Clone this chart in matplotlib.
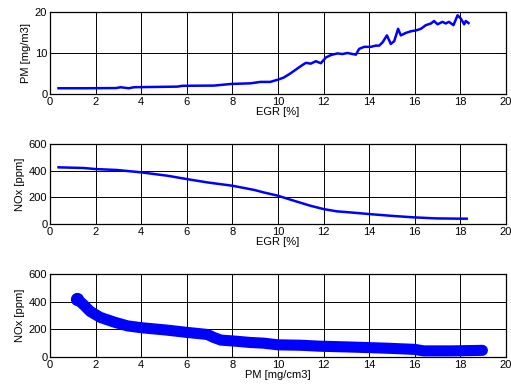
import matplotlib
matplotlib.use("Agg")
import matplotlib.pyplot as plt

plt.rcParams["font.family"] = ["Liberation Sans", "DejaVu Sans"]
plt.rcParams["font.size"] = 8

# PM emission versus EGR rate
egr_pm = [0.37, 1.5, 2.9, 3.09, 3.45, 3.68, 5.59, 5.81, 7.2, 7.94, 8.79, 9.23, 9.66,
          10.0, 10.25, 10.54, 11.0, 11.22, 11.44, 11.66, 11.88, 12.1, 12.32, 12.61,
          12.83, 13.05, 13.27, 13.42, 13.56, 13.78, 14.07, 14.29, 14.44, 14.59, 14.78,
          14.95, 15.1, 15.27, 15.39, 15.61, 15.83, 16.05, 16.27, 16.49, 16.71, 16.85,
          17.0, 17.22, 17.36, 17.5, 17.7, 17.88, 18.02, 18.17, 18.24, 18.36]
pm = [1.4, 1.4, 1.45, 1.65, 1.4, 1.65, 1.8, 2.0, 2.05, 2.45, 2.6, 2.95, 2.95,
      3.5, 4.0, 5.0, 6.8, 7.6, 7.4, 8.0, 7.5, 8.9, 9.5, 9.9,
      9.75, 10.0, 9.75, 9.6, 11.0, 11.5, 11.5, 11.8, 11.8, 12.6, 14.3,
      12.2, 12.9, 15.9, 14.3, 14.9, 15.3, 15.5, 15.9, 16.8, 17.2, 17.8,
      17.0, 17.6, 17.2, 17.6, 16.8, 19.2, 18.4, 17.0, 17.8, 17.3]

# NOx emission versus EGR rate
egr_nox = [0.37, 1.47, 2.0, 2.94, 3.97, 5.15, 6.0, 6.9, 8.0, 8.97, 9.37, 10.0, 10.69,
           11.42, 12.0, 12.58, 13.17, 13.97, 14.92, 15.94, 16.96, 17.98, 18.28]
nox = [425, 420, 412, 405, 388, 362, 337, 312, 287, 255, 237, 212, 175,
       137, 112, 95, 87, 75, 62, 50, 42, 40, 40]

# NOx-PM trade-off
pm_trade = [1.18, 1.47, 1.76, 2.2, 2.8, 3.4, 4.0, 5.1, 6.0, 6.9, 7.2, 7.5, 8.1,
            8.79, 9.37, 10.0, 10.98, 11.85, 13.2, 14.7, 16.0, 16.4, 17.6, 18.97]
nox_trade = [420, 378, 330, 287, 253, 225, 212, 195, 178, 163, 140, 122, 115,
             105, 100, 88, 85, 78, 72, 64, 55, 44, 44, 48]

x_ticks = [0, 2, 4, 6, 8, 10, 12, 14, 16, 18, 20]

fig = plt.figure(figsize=(5.11, 3.91), dpi=100)
boxes = [(0.098, 0.7596, 0.892, 0.2097),
         (0.098, 0.4271, 0.892, 0.2046),
         (0.098, 0.0870, 0.892, 0.2120)]
axes = [fig.add_axes(b) for b in boxes]

blue = (0, 0, 1)
axes[0].plot(egr_pm, pm, color=blue, lw=1.8)
axes[1].plot(egr_nox, nox, color=blue, lw=1.8)
axes[2].plot(pm_trade, nox_trade, color=blue, lw=8,
             solid_capstyle="round", solid_joinstyle="round")
axes[2].plot(pm_trade[:1], nox_trade[:1], "o", color=blue, ms=8.5)

settings = [((0, 20), [0, 10, 20], "PM [mg/m3]", "EGR [%]"),
            ((0, 600), [0, 200, 400, 600], "NOx [ppm]", "EGR [%]"),
            ((0, 600), [0, 200, 400, 600], "NOx [ppm]", "PM [mg/cm3]")]

for ax, (ylim, yt, yl, xl) in zip(axes, settings):
    ax.set_xlim(0, 20)
    ax.set_ylim(*ylim)
    ax.set_xticks(x_ticks)
    ax.set_yticks(yt)
    ax.grid(True, color="black", lw=0.7)
    ax.set_axisbelow(True)
    ax.tick_params(direction="in", length=3, width=0.7, top=True, right=True,
                   labelsize=8, pad=2)
    for s in ax.spines.values():
        s.set_linewidth(0.9)
    ax.set_ylabel(yl, fontsize=8, labelpad=3)
    ax.set_xlabel(xl, fontsize=8, labelpad=0.5)

fig.savefig("out.png", dpi=100)
